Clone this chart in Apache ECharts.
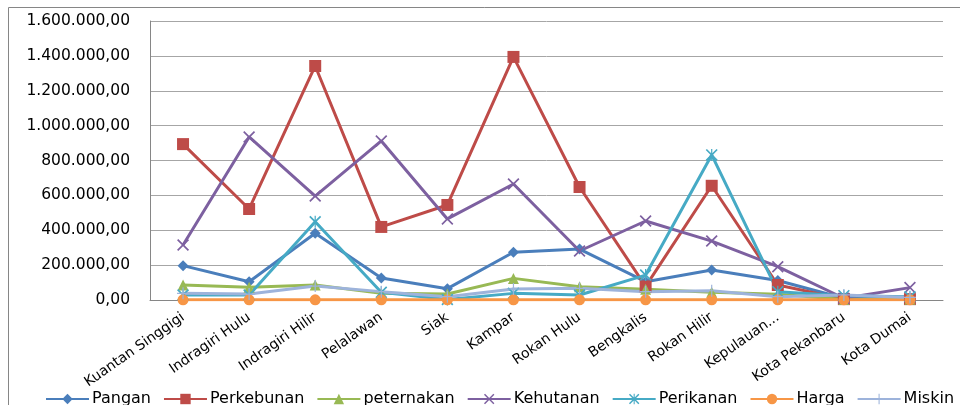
<!DOCTYPE html>
<html><head><meta charset="utf-8">
<script src="https://cdn.jsdelivr.net/npm/echarts@6/dist/echarts.min.js"></script>
<style>html,body{margin:0;padding:0;background:#fff}#c{width:960px;height:405px}</style>
</head><body><div id="c"></div>
<script>
var categories = ['Kuantan Singgigi','Indragiri Hulu','Indragiri Hilir','Pelalawan','Siak','Kampar','Rokan Hulu','Bengkalis','Rokan Hilir','Kepulauan...','Kota Pekanbaru','Kota Dumai'];
var pangan     = [197000,105000,383000,126000,65000,274000,292000,105000,172000,112000,10000,5000];
var perkebunan = [894000,522000,1342000,419000,545000,1394000,648000,78000,655000,86000,5000,5000];
var peternakan = [86000,73000,86000,38000,34000,124000,76000,61000,44000,33000,3000,5000];
var kehutanan  = [315000,935000,596000,912000,465000,665000,281000,453000,338000,191000,10000,71000];
var perikanan  = [29000,29000,449000,44000,3000,38000,29000,143000,832000,48000,25000,19000];
var harga      = [1000,1000,1000,1000,1000,1000,1000,1000,1000,1000,1000,1000];
var miskin     = [38000,34000,80000,48000,19000,63000,67000,48000,53000,19000,29000,15000];
var yTicks = [0,200000,400000,600000,800000,1000000,1200000,1400000,1600000];

var X = 'path://M0,1L1,0L10,9L9,10Z M9,0L10,1L1,10L0,9Z';
var AST = 'path://M0,1L1,0L10,9L9,10Z M9,0L10,1L1,10L0,9Z M4.5,0H5.5V10H4.5Z';
var PLUS = 'path://M4.5,0H5.5V4.5H10V5.5H5.5V10H4.5V5.5H0V4.5H4.5Z';

function fmt(v){
  var s = String(Math.round(v));
  return s.replace(/\B(?=(\d{3})+(?!\d))/g,'.') + ',00';
}
function mk(name, data, color, symbol, size){
  return {name:name, type:'line', data:data, symbol:symbol, symbolSize:size,
    showAllSymbol:true,
    lineStyle:{color:color, width:3}, itemStyle:{color:color}, emphasis:{disabled:true}};
}
var chart = echarts.init(document.getElementById('c'));
chart.setOption({
  animation:false,
  backgroundColor:'#fff',
  graphic:[{type:'rect', shape:{x:8.5,y:7.5,width:1000,height:500}, style:{fill:'none', stroke:'#868686', lineWidth:1}, silent:true}],
  grid:{left:150, right:17, top:21, bottom:105},
  legend:{top:386, left:40, itemWidth:43, itemHeight:13, itemGap:12,
    textStyle:{fontFamily:'DejaVu Sans', fontSize:16, color:'#000', padding:[0,0,0,-2]},
    data:['Pangan','Perkebunan','peternakan','Kehutanan','Perikanan','Harga','Miskin']},
  xAxis:{type:'category', data:categories, boundaryGap:true,
    axisLine:{lineStyle:{color:'#868686'}}, axisTick:{show:false},
    axisLabel:{rotate:35, interval:0, margin:16, fontFamily:'DejaVu Sans', fontSize:14, color:'#000'}},
  yAxis:{type:'value', min:0, max:1600000, interval:200000,
    axisLine:{show:true, lineStyle:{color:'#868686'}}, axisTick:{show:false},
    splitLine:{lineStyle:{color:'#a6a6a6'}},
    axisLabel:{formatter:fmt, margin:20, fontFamily:'DejaVu Sans', fontSize:15.5, color:'#000'}},
  series:[
    mk('Pangan', pangan, '#4A7EBB', 'diamond', 11),
    mk('Perkebunan', perkebunan, '#BE4B48', 'rect', 12),
    mk('peternakan', peternakan, '#98B954', 'triangle', 11),
    mk('Kehutanan', kehutanan, '#7D60A0', X, 12),
    mk('Perikanan', perikanan, '#46AAC5', AST, 12),
    mk('Harga', harga, '#F79646', 'circle', 11),
    mk('Miskin', miskin, '#9DB3DB', PLUS, 12)
  ]
});
</script></body></html>
